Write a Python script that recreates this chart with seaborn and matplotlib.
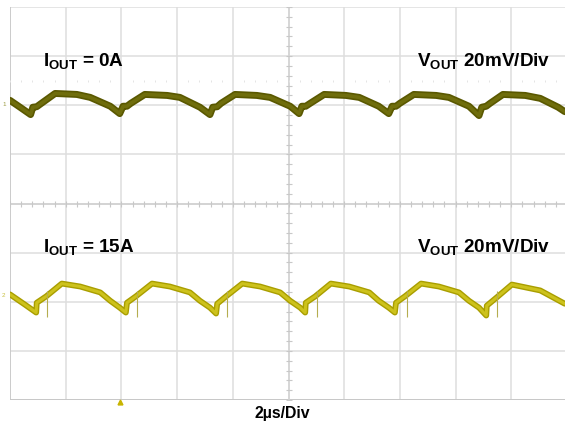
import numpy as np
import pandas as pd
import matplotlib
matplotlib.use("Agg")
import matplotlib.pyplot as plt
import seaborn as sns

# ---- data (screen divisions: x 0..10 at 2 us/div, y -4..4 at 20 mV/div) ----
top_x = [0, 0.18, 0.37, 0.41, 0.48, 0.54, 0.81, 1.20, 1.44, 1.80,
         1.97, 2.03, 2.10, 2.17, 2.42, 2.82, 3.05, 3.41,
         3.59, 3.64, 3.72, 3.79, 4.04, 4.43, 4.67, 5.03,
         5.19, 5.24, 5.31, 5.39, 5.64, 6.03, 6.27, 6.62,
         6.80, 6.86, 6.93, 7.00, 7.25, 7.65, 7.88, 8.24,
         8.42, 8.47, 8.55, 8.62, 8.85, 9.25, 9.52, 9.84, 9.96]
top_y = [2.10, 1.96, 1.81, 1.96, 1.97, 2.02, 2.24, 2.22, 2.16, 1.98,
         1.83, 1.98, 1.98, 2.04, 2.22, 2.20, 2.16, 1.96,
         1.81, 1.96, 1.97, 2.04, 2.22, 2.20, 2.16, 1.98,
         1.83, 1.98, 1.98, 2.04, 2.22, 2.20, 2.16, 1.98,
         1.83, 1.98, 1.98, 2.04, 2.22, 2.20, 2.16, 1.98,
         1.79, 1.96, 1.98, 2.04, 2.22, 2.20, 2.14, 1.96, 1.87]

bot_x = [0, 0.27, 0.47, 0.48, 0.65, 0.93, 1.26, 1.62, 1.80, 1.97,
         2.08, 2.10, 2.26, 2.55, 2.87, 3.23, 3.41, 3.59,
         3.70, 3.72, 3.88, 4.17, 4.49, 4.85, 5.03, 5.21,
         5.30, 5.31, 5.48, 5.76, 6.09, 6.45, 6.62, 6.80,
         6.91, 6.93, 7.09, 7.38, 7.70, 8.06, 8.24, 8.42,
         8.55, 8.56, 8.74, 9.01, 9.52, 9.96]
bot_y = [-1.85, -2.06, -2.22, -2.02, -1.89, -1.63, -1.69, -1.81, -1.98, -2.12,
         -2.22, -2.02, -1.89, -1.63, -1.69, -1.81, -1.98, -2.12,
         -2.24, -2.04, -1.89, -1.63, -1.69, -1.81, -1.98, -2.12,
         -2.22, -2.02, -1.89, -1.63, -1.69, -1.81, -1.98, -2.12,
         -2.22, -2.02, -1.89, -1.63, -1.69, -1.81, -1.98, -2.12,
         -2.28, -2.08, -1.91, -1.65, -1.77, -2.04]

spike_x = [0.66, 2.28, 3.90, 5.51, 7.13, 8.74]
spike_lo = [-2.32, -2.32, -2.32, -2.32, -2.32, -2.32]
spike_hi = [-1.79, -1.79, -1.79, -1.79, -1.79, -1.79]

trigger_x = [1.97]
labels_top = [r"$\mathbf{I_{OUT}}$ = 0A", r"$\mathbf{V_{OUT}}$ 20mV/Div"]
labels_bot = [r"$\mathbf{I_{OUT}}$ = 15A", r"$\mathbf{V_{OUT}}$ 20mV/Div"]
time_label = "2µs/Div"

# ---- style ----
sns.set_theme(style="white")
plt.rcParams["font.family"] = ["Liberation Sans", "DejaVu Sans"]
plt.rcParams["mathtext.fontset"] = "custom"
plt.rcParams["mathtext.rm"] = "Liberation Sans"
plt.rcParams["mathtext.bf"] = "Liberation Sans:bold"
plt.rcParams["mathtext.it"] = "Liberation Sans:italic"

W, H = 565, 426
fig = plt.figure(figsize=(W / 100, H / 100), dpi=100)
fig.patch.set_facecolor("white")
ax = fig.add_axes([10 / W, 26 / H, 557 / W, 393 / H])
ax.set_xlim(0, 10)
ax.set_ylim(-4, 4)
ax.set_axis_off()

grid_c = "#dedede"
for i in range(11):
    ax.axvline(i, color=grid_c, lw=1.1, zorder=0)
for j in range(-4, 5):
    ax.axhline(j, color=grid_c, lw=1.1, zorder=0)
ax.axvline(0, color="#c8c8c8", lw=1.2, zorder=0)
ax.axhline(-4, color="#c8c8c8", lw=1.4, zorder=0)
ax.axhline(0, color="#cfcfcf", lw=1.1, zorder=0)
ax.axvline(5, color="#d4d4d4", lw=1.1, zorder=0)

# minor ticks on centre cross
mx = np.arange(0, 10.001, 0.2)
my = np.arange(-4, 4.001, 0.2)
ax.plot(mx, np.zeros_like(mx), ls="none", marker="|", ms=4, mew=0.8, color="#c8c8c8", zorder=0)
ax.plot(np.full_like(my, 5.0), my, ls="none", marker="_", ms=4, mew=0.8, color="#c8c8c8", zorder=0)
ax.plot(mx, np.full_like(mx, 2.5), ls="none", marker="|", ms=2, mew=0.7, color="#e4e4e4", zorder=0)

# traces
sns.lineplot(x=top_x, y=top_y, ax=ax, color="#5a5800", lw=5.0, estimator=None, sort=False, legend=False, zorder=3)
sns.lineplot(x=top_x, y=top_y, ax=ax, color="#6f6d0c", lw=2.6, estimator=None, sort=False, legend=False, zorder=4)
ax.vlines(spike_x, spike_lo, spike_hi, color="#b5ad50", lw=0.8, zorder=5)
sns.lineplot(x=bot_x, y=bot_y, ax=ax, color="#a99e00", lw=4.2, estimator=None, sort=False, legend=False, zorder=3)
sns.lineplot(x=bot_x, y=bot_y, ax=ax, color="#cdc21c", lw=2.2, estimator=None, sort=False, legend=False, zorder=4)

# trigger marker
ax.plot(trigger_x, [-4.05], ls="none", marker="^", ms=3.5, color="#c8b400", clip_on=False, zorder=5)

# channel markers
fig.text(2 / W, 1 - 106 / H, "1", fontsize=4.5, color="#9a9a40")
fig.text(2 / W, 1 - 297 / H, "2", fontsize=4.5, color="#c8c040")

# labels
fs = 13.6
fig.text(43 / W, 1 - 66 / H, labels_top[0], fontsize=fs, fontweight="bold", va="baseline", color="black")
fig.text(550 / W, 1 - 66 / H, labels_top[1], fontsize=fs, fontweight="bold", va="baseline", ha="right", color="black")
fig.text(43 / W, 1 - 252 / H, labels_bot[0], fontsize=fs, fontweight="bold", va="baseline", color="black")
fig.text(550 / W, 1 - 252 / H, labels_bot[1], fontsize=fs, fontweight="bold", va="baseline", ha="right", color="black")
fig.text(282 / W, 1 - 418 / H, time_label, fontsize=11.4, fontweight="bold", va="baseline", ha="center", color="black")

fig.savefig("out.png", dpi=100)
